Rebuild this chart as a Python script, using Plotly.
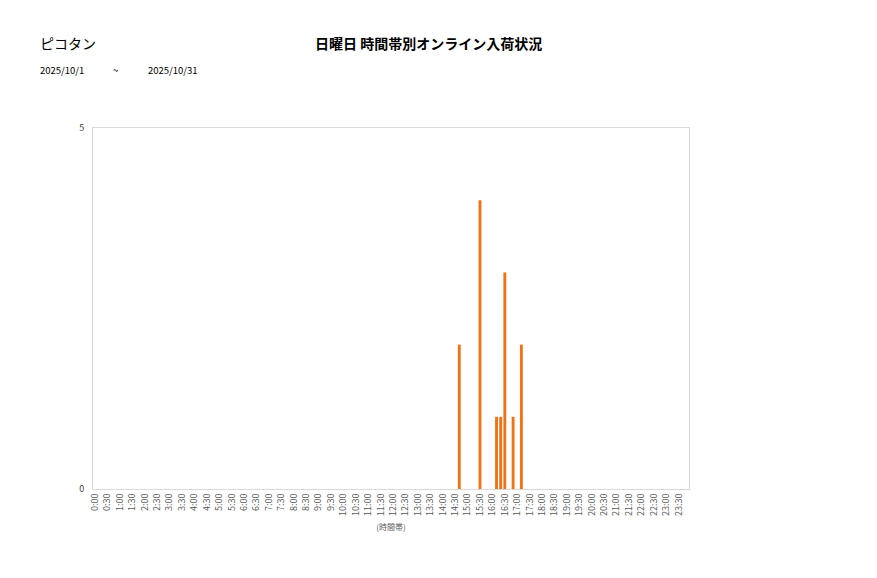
import plotly.graph_objects as go

# 10-minute time slots
slots = [f"{h}:{m:02d}" for h in range(24) for m in range(0, 60, 10)]
# observed values (others zero)
data_times = ["14:40", "15:30", "16:10", "16:20", "16:30", "16:50", "17:10"]
data_values = [2, 4, 1, 1, 3, 1, 2]
tick_labels = [f"{h}:{m:02d}" for h in range(24) for m in (0, 30)]

vals = dict(zip(data_times, data_values))
y = [vals.get(s, 0) for s in slots]

FONT = "Noto Sans CJK JP"
OFF = 8  # page body offset

W, H = 877, 578
L, R, T, B = 93 - OFF, W - (689 - OFF), 128 - OFF, H - (489 - OFF)

fig = go.Figure()
fig.add_trace(go.Bar(x=slots, y=y, marker=dict(color="#F07317", line=dict(width=0)),
                     hoverinfo="x+y"))

fig.update_layout(
    width=W, height=H,
    margin=dict(l=L, r=R, t=T, b=B),
    plot_bgcolor="white", paper_bgcolor="white",
    bargap=0.3,
    showlegend=False,
    font=dict(family=FONT, color="#595959"),
    xaxis=dict(
        type="category", categoryorder="array", categoryarray=slots,
        tickmode="array", tickvals=tick_labels, ticktext=tick_labels,
        tickangle=-90, tickfont=dict(size=9, color="#595959", family=FONT),
        showgrid=False, showline=True, linecolor="#d9d9d9", linewidth=1, mirror=True,
        ticks="", zeroline=False,
        title=dict(text="(時間帯)", font=dict(size=8, color="#595959", family=FONT), standoff=9),
    ),
    yaxis=dict(
        range=[0, 5], tickmode="array", tickvals=[0, 5], ticktext=["0", "5"],
        tickfont=dict(size=9, color="#404040", family=FONT),
        showgrid=False, showline=True, linecolor="#d9d9d9", linewidth=1, mirror=True,
        ticks="", zeroline=False, ticklabelstandoff=6,
    ),
)

pw = W - L - R
ph = H - T - B
def px(xp): return (xp - OFF - L) / pw
def py(yp): return (H - B - (yp - OFF)) / ph

anns = [
    dict(text="ピコタン", x=px(38), y=py(43), xanchor="left", yanchor="middle",
         font=dict(size=14, color="#000000", family=FONT)),
    dict(text="<b>日曜日 時間帯別オンライン入荷状況</b>", x=px(428), y=py(43), xanchor="center", yanchor="middle",
         font=dict(size=14, color="#000000", family=FONT)),
    dict(text="2025/10/1", x=px(38), y=py(70), xanchor="left", yanchor="middle",
         font=dict(size=9.5, color="#000000", family=FONT)),
    dict(text="~", x=px(115), y=py(70), xanchor="center", yanchor="middle",
         font=dict(size=9.5, color="#000000", family=FONT)),
    dict(text="2025/10/31", x=px(146), y=py(70), xanchor="left", yanchor="middle",
         font=dict(size=9.5, color="#000000", family=FONT)),
]
for a in anns:
    a.update(xref="paper", yref="paper", showarrow=False)
fig.update_layout(annotations=anns)

fig.write_html("out.html")
